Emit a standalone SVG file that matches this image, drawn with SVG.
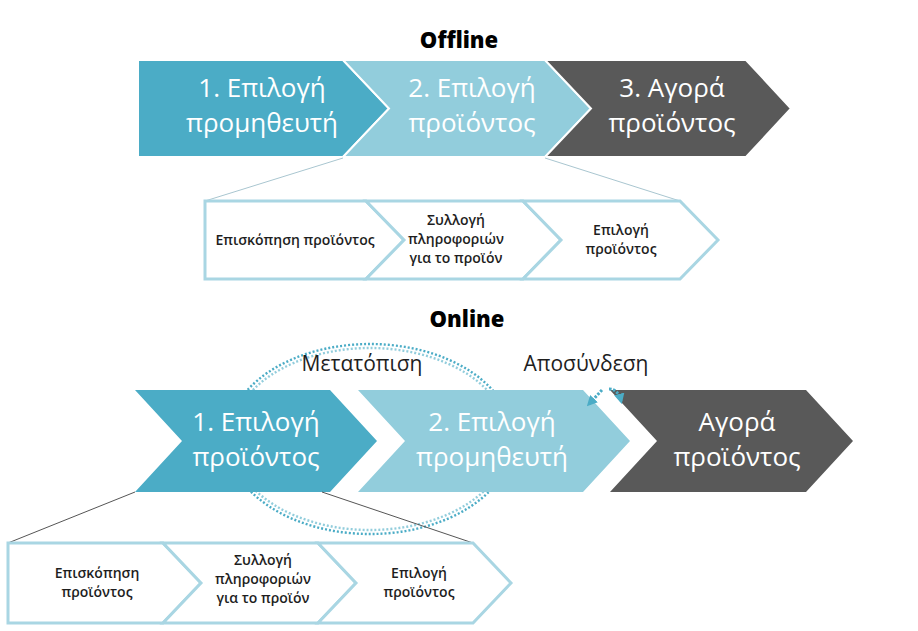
<svg xmlns="http://www.w3.org/2000/svg" width="918" height="631" viewBox="0 0 918 631">
<defs>
<style>
.big{font-family:"Open Sans","Noto Sans",sans-serif;font-size:26px;fill:#fff;text-anchor:middle}
.sub{font-family:"Open Sans","Noto Sans",sans-serif;font-size:14px;font-weight:600;fill:#1e1e1e;text-anchor:middle}
.title{font-family:"Open Sans","Noto Sans",sans-serif;font-size:22px;font-weight:800;fill:#000;text-anchor:middle}
.lab{font-family:"Open Sans","Noto Sans",sans-serif;font-size:21px;fill:#1e1e1e;text-anchor:middle}
.teal{fill:#4BACC6}
.light{fill:#92CDDC}
.dark{fill:#595959}
.sep{stroke:#fff;stroke-width:2}
.chev{fill:#fff;stroke:#A9D6E3;stroke-width:3;stroke-linejoin:miter}
.dots{fill:none;stroke:#4BACC6;stroke-width:2.4;stroke-dasharray:2 2}
.dots2{fill:none;stroke:#92CDDC;stroke-width:2.4;stroke-dasharray:2 2}
.brk{fill:none;stroke:#4BACC6;stroke-width:3;stroke-dasharray:2.5 1.5}
</style>
<marker id="ah" viewBox="0 0 10 10" refX="7" refY="5" markerWidth="3.5" markerHeight="3.5" orient="auto">
<path d="M0,0 L10,5 L0,10 z" fill="#4BACC6"/>
</marker>
</defs>
<rect width="918" height="631" fill="#fff"/>

<text class="title" x="459" y="48">Offline</text>
<text class="title" x="467" y="327">Online</text>

<!-- Offline process -->
<g id="off1"><path class="teal sep" d="M138,60 L343,60 L389,108.5 L343,157 L138,157 Z"/><text class="big" x="262" y="97">1. Επιλογή</text><text class="big" x="262" y="132">προμηθευτή</text></g>
<g id="off2"><path class="light sep" d="M343,60 L545,60 L591,108.5 L545,157 L343,157 L389,108.5 Z"/><text class="big" x="472" y="97">2. Επιλογή</text><text class="big" x="472" y="132">προϊόντος</text></g>
<g id="off3"><path class="dark sep" d="M545,60 L746,60 L791,108.5 L746,157 L545,157 L591,108.5 Z"/><text class="big" x="672" y="97">3. Αγορά</text><text class="big" x="672" y="132">προϊόντος</text></g>

<!-- Online loops (behind arrows) -->
<g id="loop">
<ellipse class="dots" cx="370" cy="439" rx="143" ry="95"/>
<ellipse class="dots2" cx="370" cy="439" rx="139" ry="91"/>
</g>

<!-- Online process -->
<g id="on1"><path class="teal" d="M135,390 L330,390 L377,441 L330,492 L135,492 L182,441 Z"/><text class="big" x="256" y="431">1. Επιλογή</text><text class="big" x="256" y="466">προϊόντος</text></g>
<g id="on2"><path class="light" d="M358,390 L583,390 L630,441 L583,492 L358,492 L405,441 Z"/><text class="big" x="492" y="431">2. Επιλογή</text><text class="big" x="492" y="466">προμηθευτή</text></g>
<g id="on3"><path class="dark" d="M610,390 L806,390 L853,441 L806,492 L610,492 L657,441 Z"/><text class="big" x="737" y="431">Αγορά</text><text class="big" x="737" y="466">προϊόντος</text></g>

<g id="connectors">
<line x1="343" y1="158" x2="205" y2="201" stroke="#A9C6D0" stroke-width="1"/>
<line x1="545" y1="158" x2="680" y2="201" stroke="#A9C6D0" stroke-width="1"/>
<line x1="135" y1="492" x2="8" y2="543" stroke="#555" stroke-width="1"/>
<line x1="322" y1="492" x2="473" y2="543" stroke="#555" stroke-width="1"/>
<path class="brk" d="M602,390 L589,404" marker-end="url(#ah)"/>
<path class="brk" d="M609,389 Q618,389 621,401" marker-end="url(#ah)"/>
</g>

<text class="lab" x="362" y="371">Μετατόπιση</text>
<text class="lab" x="586" y="371">Αποσύνδεση</text>

<!-- Offline sub-process -->
<g id="offs1"><path class="chev" d="M205,201 L366,201 L404,240 L366,279 L205,279 Z"/><text class="sub" x="295" y="245">Επισκόπηση προϊόντος</text></g>
<g id="offs2"><path class="chev" d="M366,201 L523,201 L561,240 L523,279 L366,279 L404,240 Z"/><text class="sub" x="456" y="225">Συλλογή</text><text class="sub" x="456" y="244">πληροφοριών</text><text class="sub" x="456" y="263">για το προϊόν</text></g>
<g id="offs3"><path class="chev" d="M523,201 L680,201 L718,240 L680,279 L523,279 L561,240 Z"/><text class="sub" x="621" y="235">Επιλογή</text><text class="sub" x="621" y="254">προϊόντος</text></g>

<!-- Online sub-process -->
<g id="ons1"><path class="chev" d="M8,543 L163,543 L201,583 L163,623 L8,623 Z"/><text class="sub" x="97" y="578">Επισκόπηση</text><text class="sub" x="97" y="597">προϊόντος</text></g>
<g id="ons2"><path class="chev" d="M163,543 L318,543 L356,583 L318,623 L163,623 L201,583 Z"/><text class="sub" x="263" y="565">Συλλογή</text><text class="sub" x="263" y="584">πληροφοριών</text><text class="sub" x="263" y="603">για το προϊόν</text></g>
<g id="ons3"><path class="chev" d="M318,543 L473,543 L511,583 L473,623 L318,623 L356,583 Z"/><text class="sub" x="419" y="578">Επιλογή</text><text class="sub" x="419" y="597">προϊόντος</text></g>
</svg>
